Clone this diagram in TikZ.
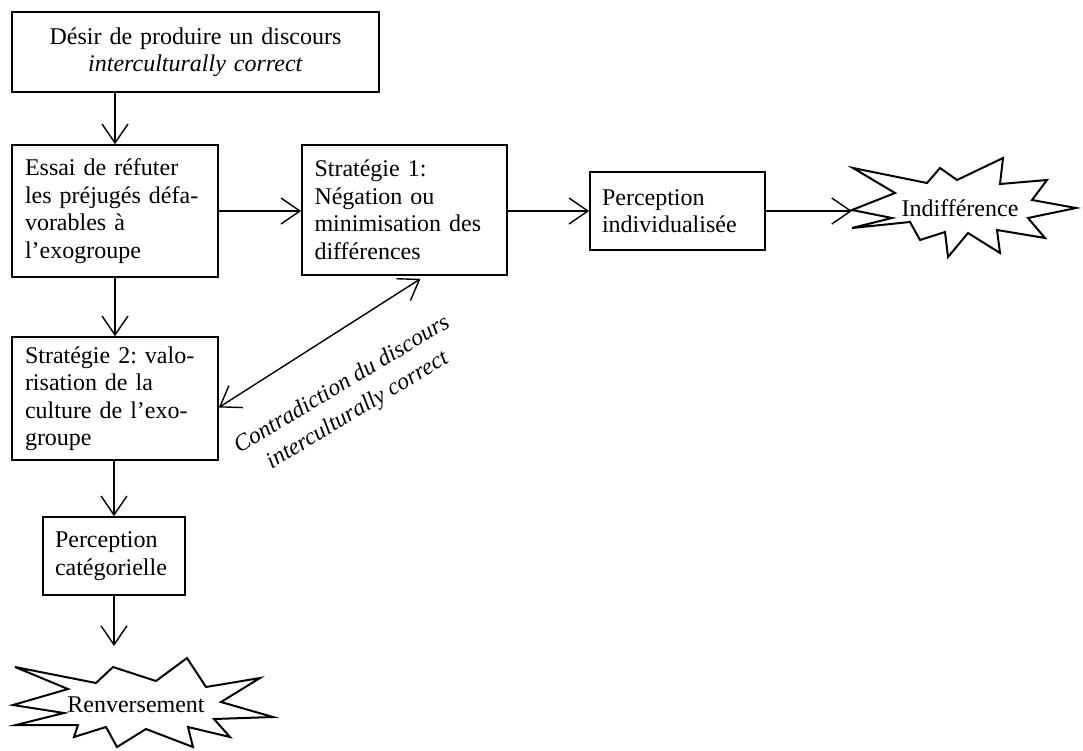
\documentclass[tikz,border=0pt]{standalone}
\usepackage{fontspec}
\setmainfont{Liberation Serif}
\frenchspacing
\usetikzlibrary{arrows.meta,calc}
\begin{document}
\begin{tikzpicture}[x=1pt,y=-1pt,
  box/.style={draw,line width=1.6pt,rectangle,inner ysep=0pt,align=left,
    font=\fontsize{24}{27.5}\selectfont},
  conn/.style={line width=1.4pt,-{Straight Barb[length=19pt,width=26pt,line width=1.4pt]}},
  dconn/.style={line width=1.4pt,{Straight Barb[length=19pt,width=26pt,line width=1.4pt]}-{Straight Barb[length=19pt,width=26pt,line width=1.4pt]}},
  starline/.style={line width=2pt,line join=miter},
  startext/.style={font=\fontsize{24}{28}\selectfont,inner sep=0pt},
  lbl/.style={font=\fontsize{23.5}{30}\selectfont\itshape,align=center,inner sep=0pt}]
\useasboundingbox (0,0) rectangle (1083,750);

\node[box,align=center,inner xsep=13pt,text width=341pt,minimum height=80pt] (d) at (195.5,52)
  {Désir de produire un discours\\\textit{interculturally correct}};
\node[box,inner xsep=13pt,text width=180pt,minimum height=132pt] (e) at (115,211)
  {Essai de réfuter\\les préjugés défa-\\vorables à\\l’exogroupe};
\node[box,inner xsep=12.5pt,text width=180pt,minimum height=130pt] (s1) at (404.5,210)
  {Stratégie 1:\\Négation ou\\minimisation des\\différences};
\node[box,inner xsep=12pt,text width=151pt,minimum height=78pt] (pi) at (677.5,211)
  {Perception\\individualisée};
\node[box,inner xsep=13pt,text width=180pt,minimum height=123pt] (s2) at (115,398.5)
  {Stratégie 2: valo-\\risation de la\\culture de l’exo-\\groupe};
\node[box,inner xsep=12pt,text width=118pt,minimum height=78pt] (cat) at (114,556)
  {Perception\\catégorielle};

\node[startext] (ind) at (960,208) {Indifférence};
\node[startext] (ren) at (136,705) {Renversement};

\begin{scope}[shift={(ind.center)}]
\draw[starline] (-107,-40) -- (-65,-15) -- (-108,2) -- (-68,10) -- (-108,20)
  -- (-50,14) -- (-40,32) -- (-15,24) -- (-12,49) -- (8,25) -- (40,45)
  -- (37,22) -- (85,30) -- (68,10) -- (116,0) -- (72,-8) -- (87,-28)
  -- (40,-24) -- (43,-50) -- (-3,-28) -- (-20,-40) -- (-33,-25) -- cycle;
\coordinate (itip) at (-108,2);
\end{scope}
\begin{scope}[shift={(ren.center)}]
\draw[starline] (-121,-38) -- (-68,-16) -- (-123,0) -- (-72,8) -- (-120,20)
  -- (-58,20) -- (-62,32) -- (-30,22) -- (-19,42) -- (10,24) -- (57,42)
  -- (52,22) -- (94,32) -- (78,14) -- (137,12) -- (85,-3) -- (124,-27)
  -- (70,-18) -- (51,-47) -- (20,-24) -- (-23,-38) -- (-40,-22) -- cycle;
\end{scope}
\coordinate (rtip) at (113,646);

\draw[conn] (e.north |- d.south) -- (e.north);
\draw[conn] (e.south) -- (s2.north);
\draw[conn] (cat.north |- s2.south) -- (cat.north);
\draw[conn] (cat.south) -- (cat.south |- rtip);
\draw[conn] (e.east) -- (s1.west |- e.east);
\draw[conn] (s1.east |- pi.west) -- (pi.west);
\draw[conn] (pi.east) -- (pi.east -| itip);
\draw[dconn] ($(s1.south)+(16,3)$) -- ($(s2.east)+(0,9)$);

\node[lbl,rotate=31] (ctr) at (350,398) {Contradiction du discours\\interculturally correct};
\end{tikzpicture}
\end{document}
